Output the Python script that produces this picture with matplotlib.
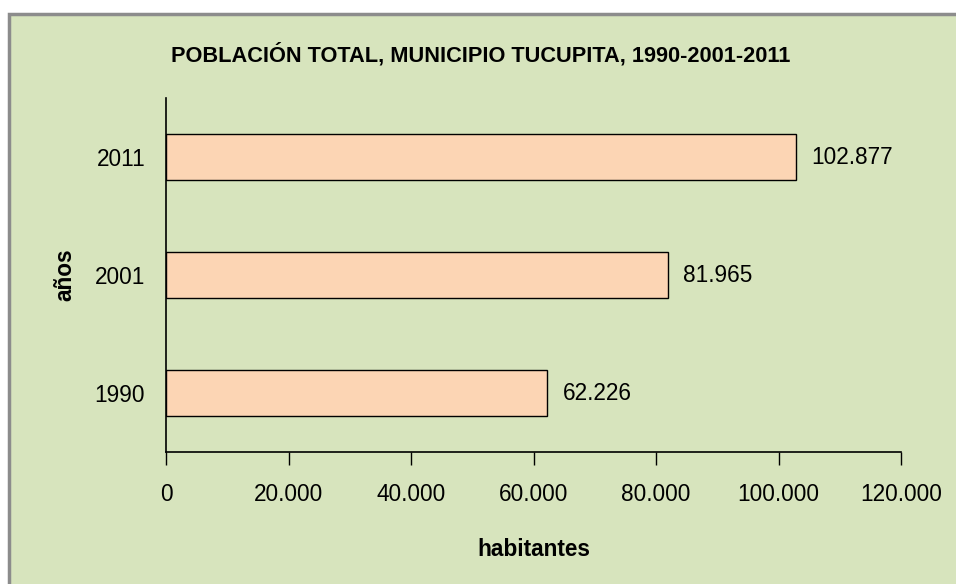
import matplotlib.pyplot as plt
from matplotlib.patches import Rectangle
from matplotlib.ticker import FuncFormatter

years = ['1990', '2001', '2011']
population = [62226, 81965, 102877]
x_ticks = [0, 20000, 40000, 60000, 80000, 100000, 120000]

plt.rcParams['font.family'] = ['Liberation Sans Narrow', 'Liberation Sans', 'DejaVu Sans']

W, H = 956, 584
fig = plt.figure(figsize=(W / 100, H / 100), dpi=100)
fig.patch.set_facecolor('white')

# green chart area with gray border
fig.patches.append(Rectangle((9 / W, -0.01), 1.0, (H - 14) / H + 0.01,
                             transform=fig.transFigure, facecolor='#D7E4BD',
                             edgecolor='#8C8C8C', linewidth=2.5, zorder=-1))

ax = fig.add_axes([166 / W, (H - 452) / H, (901 - 166) / W, (452 - 98) / H])
ax.set_facecolor('none')
ax.set_zorder(2)

def fmt(v):
    return f'{int(v):,}'.replace(',', '.')

ypos = range(len(years))
ax.barh(ypos, population, height=0.39, color='#FCD5B4', edgecolor='black', linewidth=1)
for y, v in zip(ypos, population):
    ax.text(v + 2500, y, fmt(v), va='center', ha='left', fontsize=16.3)

ax.set_xlim(0, 120000)
ax.set_ylim(-0.5, 2.5)
ax.set_xticks(x_ticks)
ax.xaxis.set_major_formatter(FuncFormatter(lambda v, p: fmt(v)))
ax.set_yticks(list(ypos))
ax.set_yticklabels(years)
ax.tick_params(axis='x', direction='out', length=9, width=1, labelsize=16.3, pad=13)
ax.tick_params(axis='y', length=0, labelsize=16.3, pad=15)

for s in ['top', 'right']:
    ax.spines[s].set_visible(False)
ax.spines['left'].set_linewidth(1.2)
ax.spines['bottom'].set_linewidth(1.2)

ax.set_xlabel('habitantes', fontsize=16.3, fontweight='bold', labelpad=23)
ax.set_ylabel('años', fontsize=16.3, fontweight='bold', labelpad=13)

fig.text(481 / W, 1 - 55 / H, 'POBLACIÓN TOTAL, MUNICIPIO TUCUPITA, 1990-2001-2011',
         ha='center', va='center', fontsize=15.7, fontweight='bold')

fig.savefig('out.png', dpi=100)
